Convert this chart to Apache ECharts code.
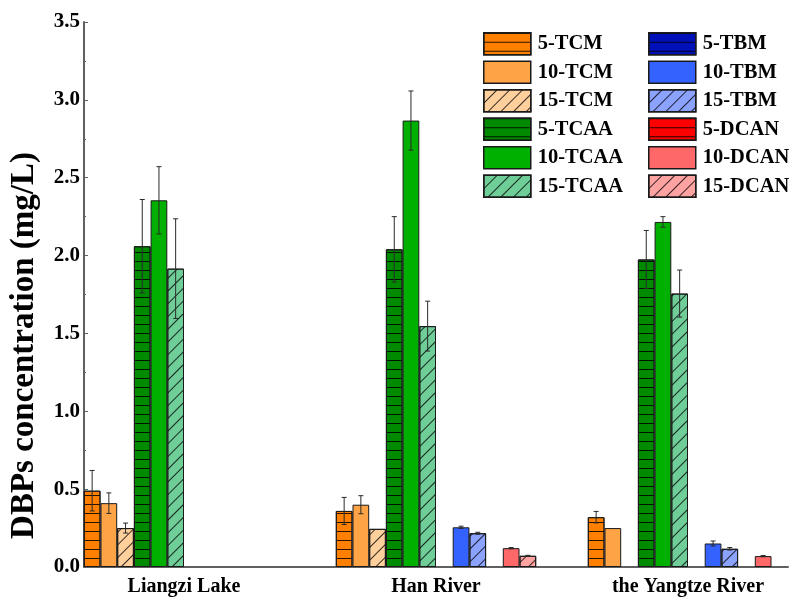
<!DOCTYPE html>
<html>
<head>
<meta charset="utf-8">
<title>DBPs concentration</title>
<script src="https://cdn.jsdelivr.net/npm/echarts@6/dist/echarts.min.js"></script>
<style>
  html, body { margin: 0; padding: 0; background: #fff; }
  #chart { width: 790px; height: 597px; }
</style>
</head>
<body>
<div id="chart"></div>
<script>
// Sampling sites
const categories = ['Liangzi Lake', 'Han River', 'the Yangtze River'];

// Mean concentrations (mg/L) per site
const tcm5   = [0.49, 0.36, 0.32];
const tcm10  = [0.41, 0.40, 0.25];
const tcm15  = [0.25, 0.245, 0];
const tcaa5  = [2.06, 2.04, 1.975];
const tcaa10 = [2.355, 2.867, 2.216];
const tcaa15 = [1.916, 1.547, 1.756];
const tbm5   = [0, 0, 0];
const tbm10  = [0, 0.255, 0.151];
const tbm15  = [0, 0.217, 0.117];
const dcan5  = [0, 0, 0];
const dcan10 = [0, 0.121, 0.070];
const dcan15 = [0, 0.072, 0];

// Standard deviations (mg/L)
const tcm5Sd   = [0.13, 0.087, 0.037];
const tcm10Sd  = [0.066, 0.058, 0];
const tcm15Sd  = [0.032, 0, 0];
const tcaa5Sd  = [0.30, 0.21, 0.186];
const tcaa10Sd = [0.216, 0.19, 0.034];
const tcaa15Sd = [0.32, 0.16, 0.151];
const tbm5Sd   = [0, 0, 0];
const tbm10Sd  = [0, 0.007, 0.016];
const tbm15Sd  = [0, 0.006, 0.008];
const dcan5Sd  = [0, 0, 0];
const dcan10Sd = [0, 0.004, 0.004];
const dcan15Sd = [0, 0.003, 0];

// Y-axis ticks
const yMin = 0, yMax = 3.5, yStep = 0.5;

const seriesNames = ['5-TCM', '10-TCM', '15-TCM', '5-TCAA', '10-TCAA', '15-TCAA',
                     '5-TBM', '10-TBM', '15-TBM', '5-DCAN', '10-DCAN', '15-DCAN'];
const seriesValues = [tcm5, tcm10, tcm15, tcaa5, tcaa10, tcaa15,
                      tbm5, tbm10, tbm15, dcan5, dcan10, dcan15];
const seriesSd = [tcm5Sd, tcm10Sd, tcm15Sd, tcaa5Sd, tcaa10Sd, tcaa15Sd,
                  tbm5Sd, tbm10Sd, tbm15Sd, dcan5Sd, dcan10Sd, dcan15Sd];

const colors = ['#ff8000', '#ffa446', '#ffd09c',
                '#008a00', '#00b000', '#6fcd98',
                '#0010b8', '#3362ff', '#8ba2ff',
                '#ff0000', '#ff6868', '#ffa2a2'];

const FONT = 'Liberation Serif, Times New Roman, serif';
const BAR_W = 16.7;
const N = seriesNames.length;

// Fill patterns: horizontal rules for 5-, plain for 10-, diagonal hatch for 15-
const hLines = {
  symbol: 'rect', symbolSize: 1,
  dashArrayX: [10, 0], dashArrayY: [1, 8],
  color: 'rgba(0,0,0,0.85)'
};
const diag = {
  symbol: 'rect', symbolSize: 1,
  dashArrayX: [10, 0], dashArrayY: [1, 7.5],
  rotation: -Math.PI / 4,
  color: 'rgba(0,0,0,0.8)'
};
function decalFor(i) {
  const k = i % 3;
  if (k === 0) return hLines;
  if (k === 2) return diag;
  return null;
}

const barSeries = seriesNames.map((name, i) => {
  const itemStyle = {
    color: colors[i],
    borderColor: '#1a1a1a',
    borderWidth: 1
  };
  const d = decalFor(i);
  if (d) itemStyle.decal = d;
  return {
    name: name,
    type: 'bar',
    barWidth: BAR_W,
    barGap: '0%',
    itemStyle: itemStyle,
    emphasis: { disabled: true },
    // empty (not detected) entries get no outline
    data: seriesValues[i].map((v, c) => v > 0
      ? [c, v]
      : { value: [c, v], itemStyle: { borderWidth: 0 } })
  };
});

// Error bar records: [site, low, high, slot]
const errData = [];
seriesValues.forEach((vals, s) => {
  vals.forEach((v, c) => {
    const sd = seriesSd[s][c];
    if (sd > 0) errData.push([c, v - sd, v + sd, s]);
  });
});

const errSeries = {
  name: 'errorBars',
  type: 'custom',
  z: 5,
  silent: true,
  data: errData,
  renderItem: function (params, api) {
    const c = api.value(0);
    const lo = api.value(1);
    const hi = api.value(2);
    const slot = api.value(3);
    const off = (slot - (N - 1) / 2) * BAR_W;
    const pLo = api.coord([c, lo]);
    const pHi = api.coord([c, hi]);
    const x = pLo[0] + off;
    const cap = 2.5;
    const style = { stroke: '#2a2a2a', lineWidth: 1 };
    return {
      type: 'group',
      children: [
        { type: 'line', shape: { x1: x, y1: pLo[1], x2: x, y2: pHi[1] }, style: style },
        { type: 'line', shape: { x1: x - cap, y1: pHi[1], x2: x + cap, y2: pHi[1] }, style: style },
        { type: 'line', shape: { x1: x - cap, y1: pLo[1], x2: x + cap, y2: pLo[1] }, style: style }
      ]
    };
  }
};

function legendBlock(names, left) {
  return {
    data: names,
    orient: 'vertical',
    left: left,
    top: 32,
    padding: 0,
    icon: 'rect',
    itemWidth: 47,
    itemHeight: 22,
    itemGap: 5,
    selectedMode: false,
    itemStyle: { borderColor: '#1a1a1a', borderWidth: 1.5 },
    textStyle: {
      fontFamily: FONT, fontWeight: 'bold', fontSize: 20.5,
      color: '#000', lineHeight: 22, padding: [0, 0, 0, 2]
    }
  };
}

const chart = echarts.init(document.getElementById('chart'), null, { renderer: 'canvas' });

const option = {
  backgroundColor: '#fff',
  animation: false,
  grid: { left: 84, right: 2, top: 22, bottom: 27, containLabel: false },
  legend: [
    legendBlock(seriesNames.slice(0, 6), 483),
    legendBlock(seriesNames.slice(6), 648)
  ],
  xAxis: {
    type: 'value',
    min: -100 / 252,
    max: 2 + 100 / 252,
    splitLine: { show: false },
    axisLine: { show: true, onZero: false, lineStyle: { color: '#606060', width: 2 } },
    axisTick: { show: false },
    axisLabel: {
      customValues: [0, 1, 2],
      formatter: function (v) { return categories[Math.round(v)] || ''; },
      fontFamily: FONT, fontWeight: 'bold', fontSize: 20, color: '#000',
      margin: 10
    }
  },
  yAxis: {
    type: 'value',
    min: yMin,
    max: yMax,
    interval: yStep,
    name: 'DBPs concentration (mg/L)',
    nameLocation: 'middle',
    nameGap: 43,
    nameTextStyle: {
      fontFamily: FONT, fontWeight: 'bold', fontSize: 33, color: '#000',
      padding: [0, 102, 0, 0]
    },
    splitLine: { show: false },
    axisLine: { show: true, onZero: false, lineStyle: { color: '#606060', width: 2 } },
    axisTick: { show: true, inside: true, length: 4, lineStyle: { color: '#606060', width: 1 } },
    minorTick: { show: true, splitNumber: 2, length: 2, lineStyle: { color: '#606060', width: 1 } },
    axisLabel: {
      formatter: function (v) { return v.toFixed(1); },
      fontFamily: FONT, fontWeight: 'bold', fontSize: 21, color: '#000',
      margin: 4
    }
  },
  series: barSeries.concat([errSeries])
};

chart.setOption(option);
</script>
</body>
</html>
